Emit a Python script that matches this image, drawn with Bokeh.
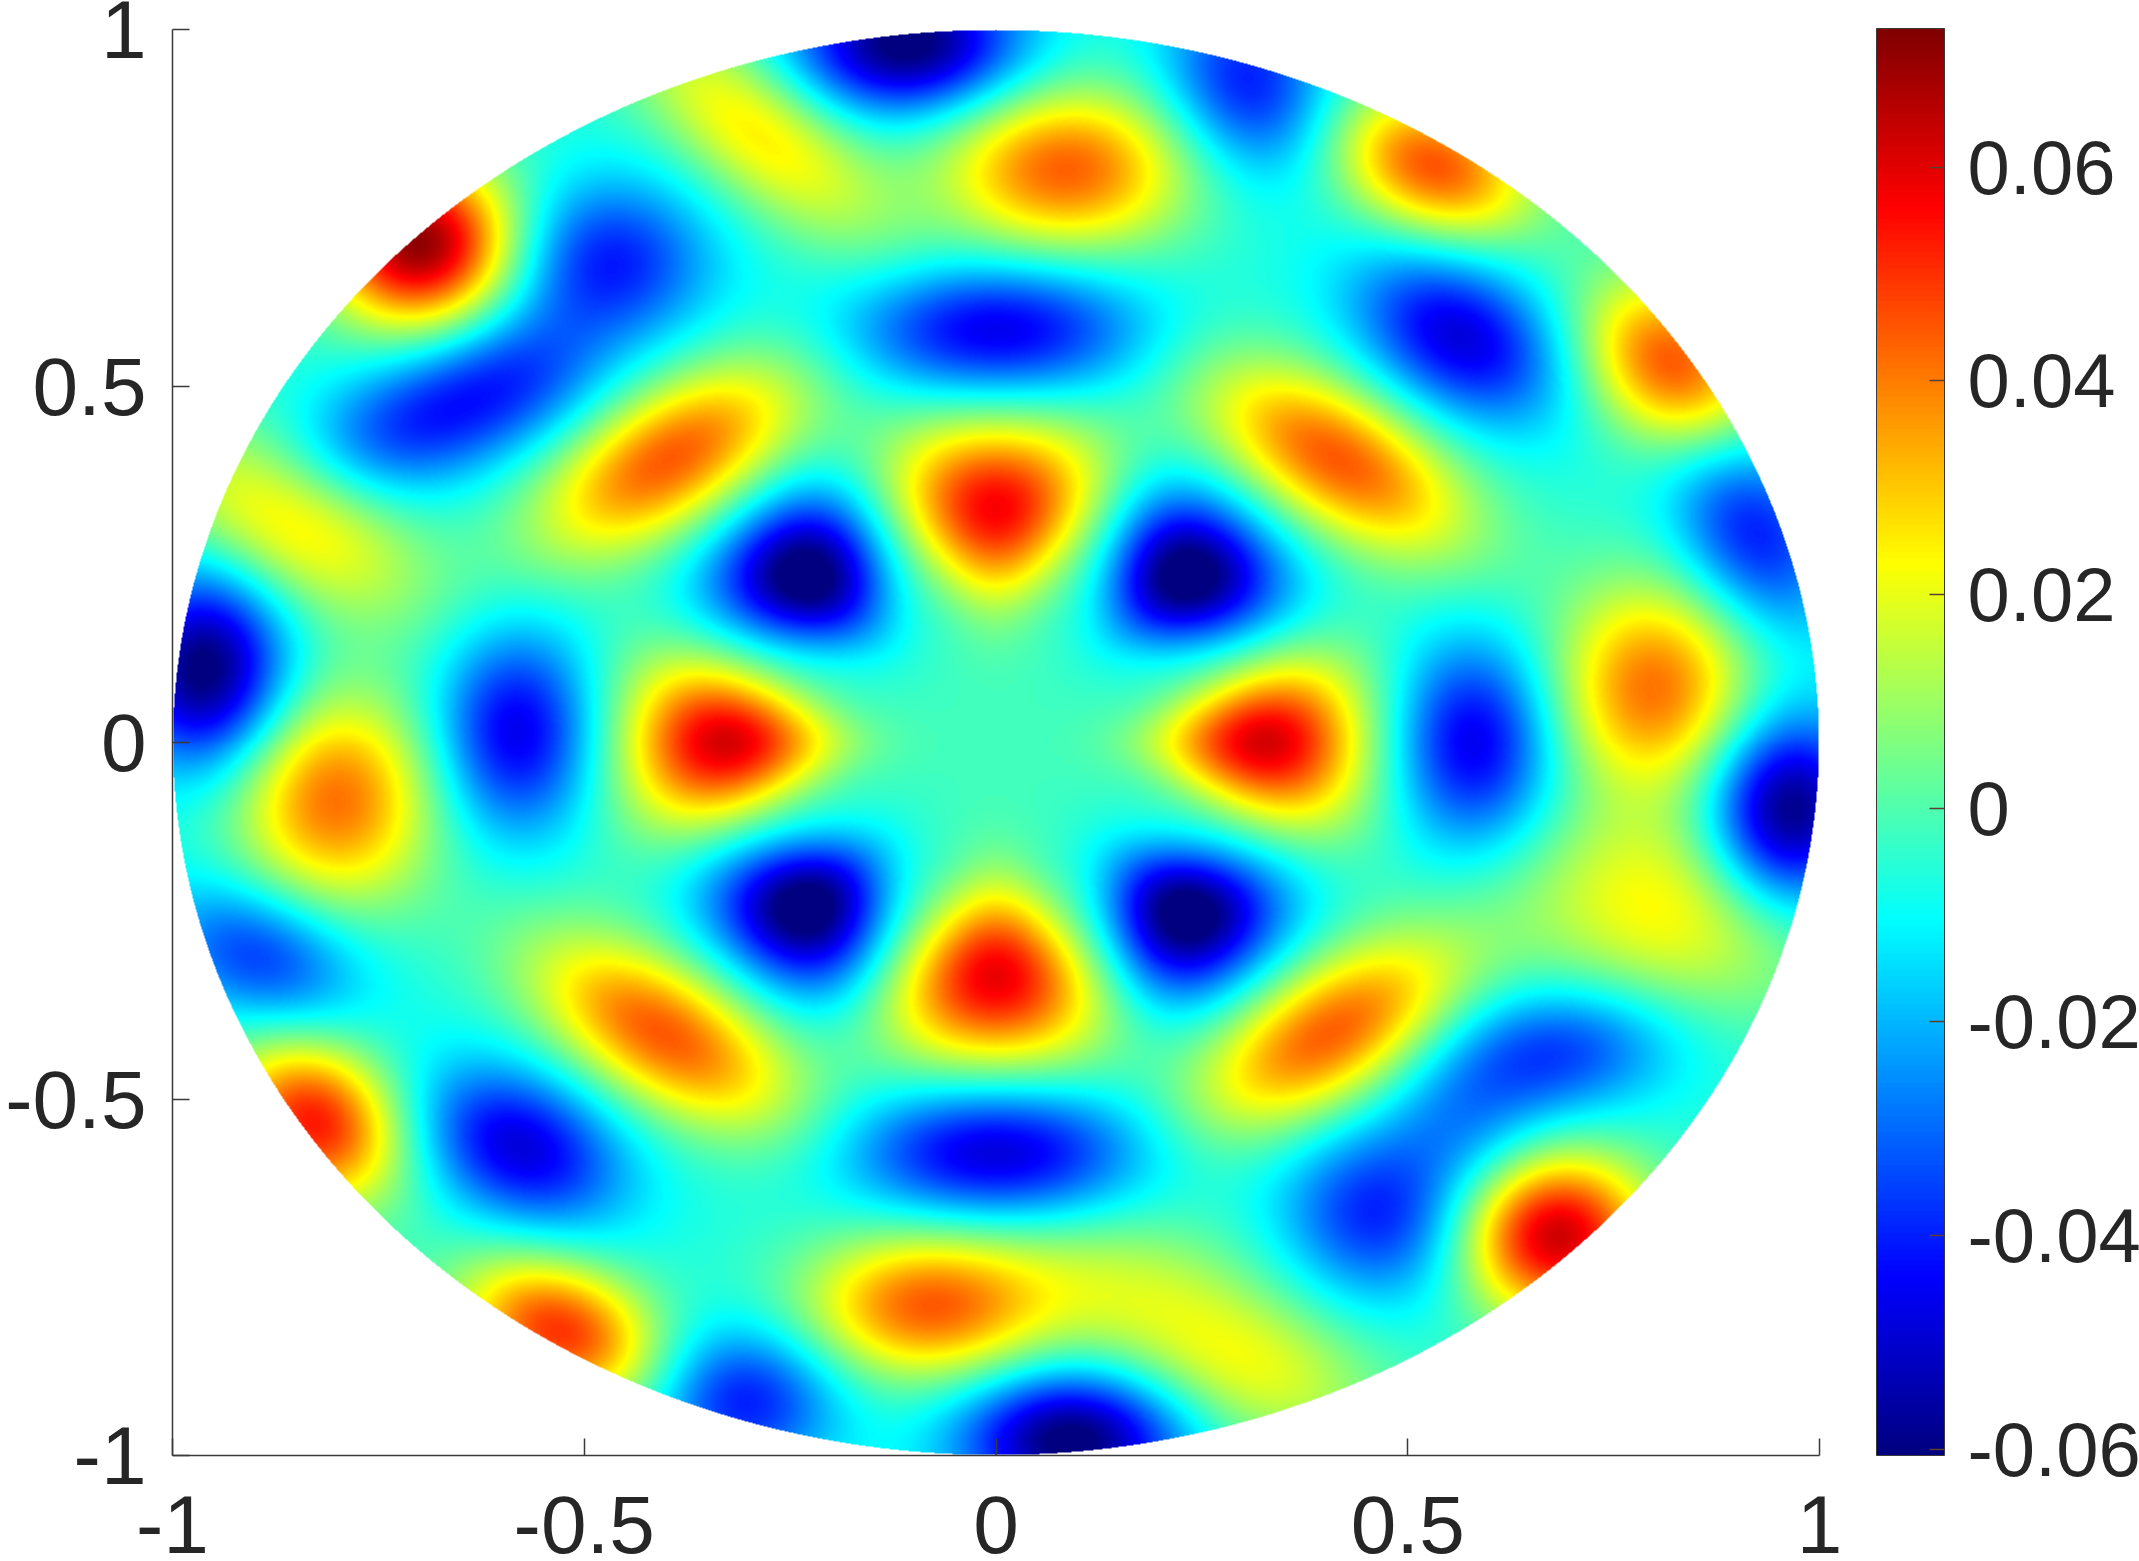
import numpy as np
from bokeh.plotting import figure
from bokeh.models import LinearColorMapper, ColorBar, FixedTicker
from bokeh.embed import file_html
from bokeh.resources import INLINE

# tick labels
axis_ticks = [-1, -0.5, 0, 0.5, 1]
axis_labels = ["-1", "-0.5", "0", "0.5", "1"]
bar_ticks = [-0.06, -0.04, -0.02, 0, 0.02, 0.04, 0.06]
bar_labels = ["-0.06", "-0.04", "-0.02", "0", "0.02", "0.04", "0.06"]
value_low, value_high = -0.0606, 0.0730
background_value = -0.006

# lobes of the field:
# centre x, centre y, peak value, spread along, spread across, direction in degrees, taper
lobe_x = [0.0, 0.0, -0.331, 0.329, -0.397, 0.415, -0.405, 0.407, 0.084, -0.082, -0.803, 0.80,
          -0.70, 0.68, 0.531, 0.821, -0.828, -0.53,
          -0.289, -0.86, 0.846, 0.78, 0.249, 0.324, 0.15,
          -0.231, 0.233, -0.231, 0.233, -0.582, 0.581, 0.0, 0.0, -0.107, 0.092, -0.96, 0.962,
          -0.47, -0.68, 0.564, 0.307, 0.92, -0.579, -0.894, -0.306, 0.68, 0.465, -0.57, 0.572, 0.0]
lobe_y = [0.331, -0.331, 0.0, 0.0, 0.398, 0.398, -0.409, -0.409, 0.805, -0.792, -0.08, 0.076,
          0.70, -0.692, 0.809, 0.532, -0.533, -0.826,
          0.857, 0.31, -0.281, -0.185, -0.826, -0.902, -0.74,
          0.235, 0.235, -0.233, -0.243, 0.015, 0.0, 0.579, -0.577, 0.98, -0.979, 0.101, -0.099,
          0.675, 0.46, 0.57, 0.923, 0.293, -0.568, -0.30, -0.922, -0.434, -0.663, 0.532, -0.549, 0.0]
lobe_peak = [0.062, 0.064, 0.067, 0.067, 0.051, 0.051, 0.051, 0.051, 0.05, 0.05, 0.048, 0.048,
             0.078, 0.07, 0.052, 0.052, 0.06, 0.056,
             0.032, 0.033, 0.021, 0.015, 0.016, 0.016, 0.01,
             -0.062, -0.062, -0.062, -0.062, -0.042, -0.042, -0.042, -0.044, -0.058, -0.058, -0.058, -0.058,
             -0.035, -0.035, -0.043, -0.036, -0.036, -0.043, -0.032, -0.036, -0.032, -0.034, -0.012, -0.015, 0.004]
lobe_along = [0.085, 0.085, 0.085, 0.085, 0.13, 0.13, 0.13, 0.13, 0.105, 0.105, 0.105, 0.105,
              0.08, 0.08, 0.09, 0.09, 0.085, 0.09,
              0.14, 0.13, 0.13, 0.11, 0.13, 0.11, 0.11,
              0.072, 0.072, 0.072, 0.072, 0.10, 0.10, 0.125, 0.125, 0.095, 0.095, 0.095, 0.095,
              0.085, 0.115, 0.10, 0.09, 0.10, 0.095, 0.09, 0.08, 0.105, 0.085, 0.07, 0.07, 0.2]
lobe_across = [0.08, 0.08, 0.072, 0.072, 0.066, 0.066, 0.066, 0.066, 0.08, 0.072, 0.085, 0.085,
               0.08, 0.08, 0.065, 0.07, 0.07, 0.065,
               0.06, 0.07, 0.09, 0.08, 0.07, 0.07, 0.07,
               0.068, 0.068, 0.068, 0.068, 0.068, 0.068, 0.065, 0.065, 0.068, 0.068, 0.068, 0.068,
               0.08, 0.065, 0.07, 0.07, 0.065, 0.07, 0.065, 0.072, 0.065, 0.08, 0.07, 0.07, 0.2]
lobe_angle = [90, -90, 180, 0, 37, -37, -37, 37, 0, 0, 90, 90,
              135, -45, -30, -55, -55, -30,
              -45, -35, 0, 0, -20, -20, 0,
              135, 45, -135, -45, 90, 90, 0, 0, 0, 0, 90, 90,
              0, 25, -40, -70, -70, -35, -30, 0, 10, -60, 0, 0, 0]
lobe_taper = [0.25, 0.25, 0.25, 0.25, 0, 0, 0, 0, 0, 0, 0, 0,
              0, 0, 0, 0, 0, 0,
              0, 0, 0, 0, 0, 0, 0,
              0.2, 0.2, 0.2, 0.2, 0, 0, 0, 0, 0, 0, 0, 0,
              0, 0, 0, 0, 0, 0, 0, 0, 0, 0, 0, 0, 0]


def jet(n=256):
    out = []
    for i in range(n):
        t = (i + 0.5) / n
        r = np.clip(min(4 * t - 1.5, -4 * t + 4.5), 0, 1)
        g = np.clip(min(4 * t - 0.5, -4 * t + 3.5), 0, 1)
        b = np.clip(min(4 * t + 0.5, -4 * t + 2.5), 0, 1)
        out.append("#%02x%02x%02x" % (int(r * 255), int(g * 255), int(b * 255)))
    return out


nx, ny = 1647, 1427
xs = np.linspace(-1, 1, nx, dtype=np.float32)
ys = np.linspace(-1, 1, ny, dtype=np.float32)
X, Y = np.meshgrid(xs, ys)
Z = np.full_like(X, background_value)
for cx, cy, a, sa, sb, ang, t in zip(lobe_x, lobe_y, lobe_peak, lobe_along, lobe_across, lobe_angle, lobe_taper):
    th = np.deg2rad(ang)
    dx = X - cx
    dy = Y - cy
    u = dx * np.cos(th) + dy * np.sin(th)
    v = -dx * np.sin(th) + dy * np.cos(th)
    w = sb * (1 + t * np.clip(u / sa, -2, 2))
    Z += a * np.exp(-0.5 * ((u / sa) ** 2 + (v / w) ** 2))
Z[X ** 2 + Y ** 2 > 1] = np.nan

palette = jet()
mapper = LinearColorMapper(palette=palette, low=value_low, high=value_high, nan_color="#ffffff")

p = figure(width=2139, height=1561, x_range=(-1, 1), y_range=(-1, 1),
           output_backend="svg", toolbar_location=None,
           min_border_left=172, min_border_right=320, min_border_top=29, min_border_bottom=106)
p.image(image=[Z], x=-1, y=-1, dw=2, dh=2, color_mapper=mapper)

p.grid.visible = False
p.outline_line_color = None
for ax in (p.xaxis[0], p.yaxis[0]):
    ax.ticker = FixedTicker(ticks=axis_ticks)
    ax.major_label_overrides = dict(zip(axis_ticks, axis_labels))
    ax.major_tick_in = 17
    ax.major_tick_out = 0
    ax.minor_tick_in = 0
    ax.minor_tick_out = 0
    ax.axis_line_color = "#3a3a3a"
    ax.axis_line_width = 1.5
    ax.major_tick_line_color = "#3a3a3a"
    ax.major_tick_line_width = 1.5
    ax.major_label_text_font = "Liberation Sans"
    ax.major_label_text_font_size = "82px"
    ax.major_label_text_color = "#262626"
p.xaxis[0].major_label_standoff = 40
p.yaxis[0].major_label_standoff = 26
p.yaxis[0].major_label_orientation = "horizontal"

cb = ColorBar(color_mapper=mapper, location=(1876 - 172, 0), width=68, height=1427, padding=0, margin=0,
              ticker=FixedTicker(ticks=bar_ticks),
              major_label_overrides=dict(zip(bar_ticks, bar_labels)),
              major_tick_in=15, major_tick_line_color="#5a4030", major_tick_line_width=1.5,
              minor_tick_line_color=None,
              bar_line_color="#3a3a3a", bar_line_width=1,
              major_label_text_font="Liberation Sans", major_label_text_font_size="76px",
              major_label_text_color="#262626", label_standoff=23,
              background_fill_color=None, border_line_color=None)
p.add_layout(cb, "center")

open("out.html", "w").write(file_html(p, INLINE))
